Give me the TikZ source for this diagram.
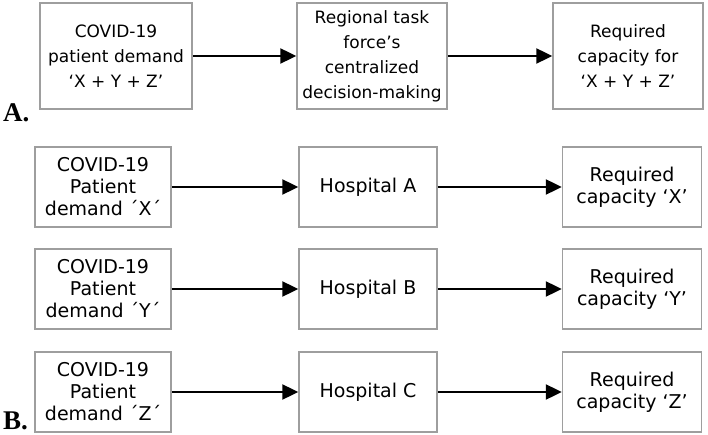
\documentclass[tikz,border=0pt]{standalone}
\usepackage{fontspec}
\setmainfont{DejaVu Sans}
\newfontfamily\panelfont{Liberation Serif}
\usepackage{tikz}
\usetikzlibrary{arrows.meta}

\tikzset{
    box/.style={draw=black!38, line width=1.5pt, fill=white, align=center, inner sep=1pt},
    boxA/.style={box, minimum height=106pt, font=\fontsize{17}{25}\selectfont},
    boxB/.style={box, minimum height=80pt, font=\fontsize{19}{22}\selectfont},
    flow/.style={-{Triangle[length=16pt,width=15pt]}, line width=2.4pt},
    panel/.style={anchor=base west, inner sep=0pt, font=\panelfont\bfseries\fontsize{27}{27}\selectfont}
}

\begin{document}
\begin{tikzpicture}[x=1pt, y=-1pt]
    \useasboundingbox (0,0) rectangle (708,435);
    % A. centralized decision-making
    \node[boxA, minimum width=152pt] (demA) at (116,56) {COVID-19\\patient demand\\‘X + Y + Z’};
    \node[boxA, minimum width=150pt] (task) at (372,56) {Regional task\\force’s\\centralized\\decision-making};
    \node[boxA, minimum width=150pt] (capA) at (628,56) {Required\\capacity for\\‘X + Y + Z’};
    \draw[flow] (demA) -- (task);
    \draw[flow] (task) -- (capA);
    \node[panel] (labA) at (3,122) {A.};
    % B. each hospital on its own
    \node[boxB, minimum width=136pt] (demX) at (103,187) {COVID-19\\Patient\\demand ´X´};
    \node[boxB, minimum width=138pt] (hosA) at (368,187) {Hospital A};
    \node[boxB, minimum width=139pt] (capX) at (632,187) {Required\\capacity ‘X’};
    \node[boxB, minimum width=136pt] (demY) at (103,289) {COVID-19\\Patient\\demand ´Y´};
    \node[boxB, minimum width=138pt] (hosB) at (368,289) {Hospital B};
    \node[boxB, minimum width=139pt] (capY) at (632,289) {Required\\capacity ‘Y’};
    \node[boxB, minimum width=136pt] (demZ) at (103,392) {COVID-19\\Patient\\demand ´Z´};
    \node[boxB, minimum width=138pt] (hosC) at (368,392) {Hospital C};
    \node[boxB, minimum width=139pt] (capZ) at (632,392) {Required\\capacity ‘Z’};
    \draw[flow] (demX) -- (hosA);
    \draw[flow] (hosA) -- (capX);
    \draw[flow] (demY) -- (hosB);
    \draw[flow] (hosB) -- (capY);
    \draw[flow] (demZ) -- (hosC);
    \draw[flow] (hosC) -- (capZ);
    \node[panel] (labB) at (3,429) {B.};
\end{tikzpicture}
\end{document}
